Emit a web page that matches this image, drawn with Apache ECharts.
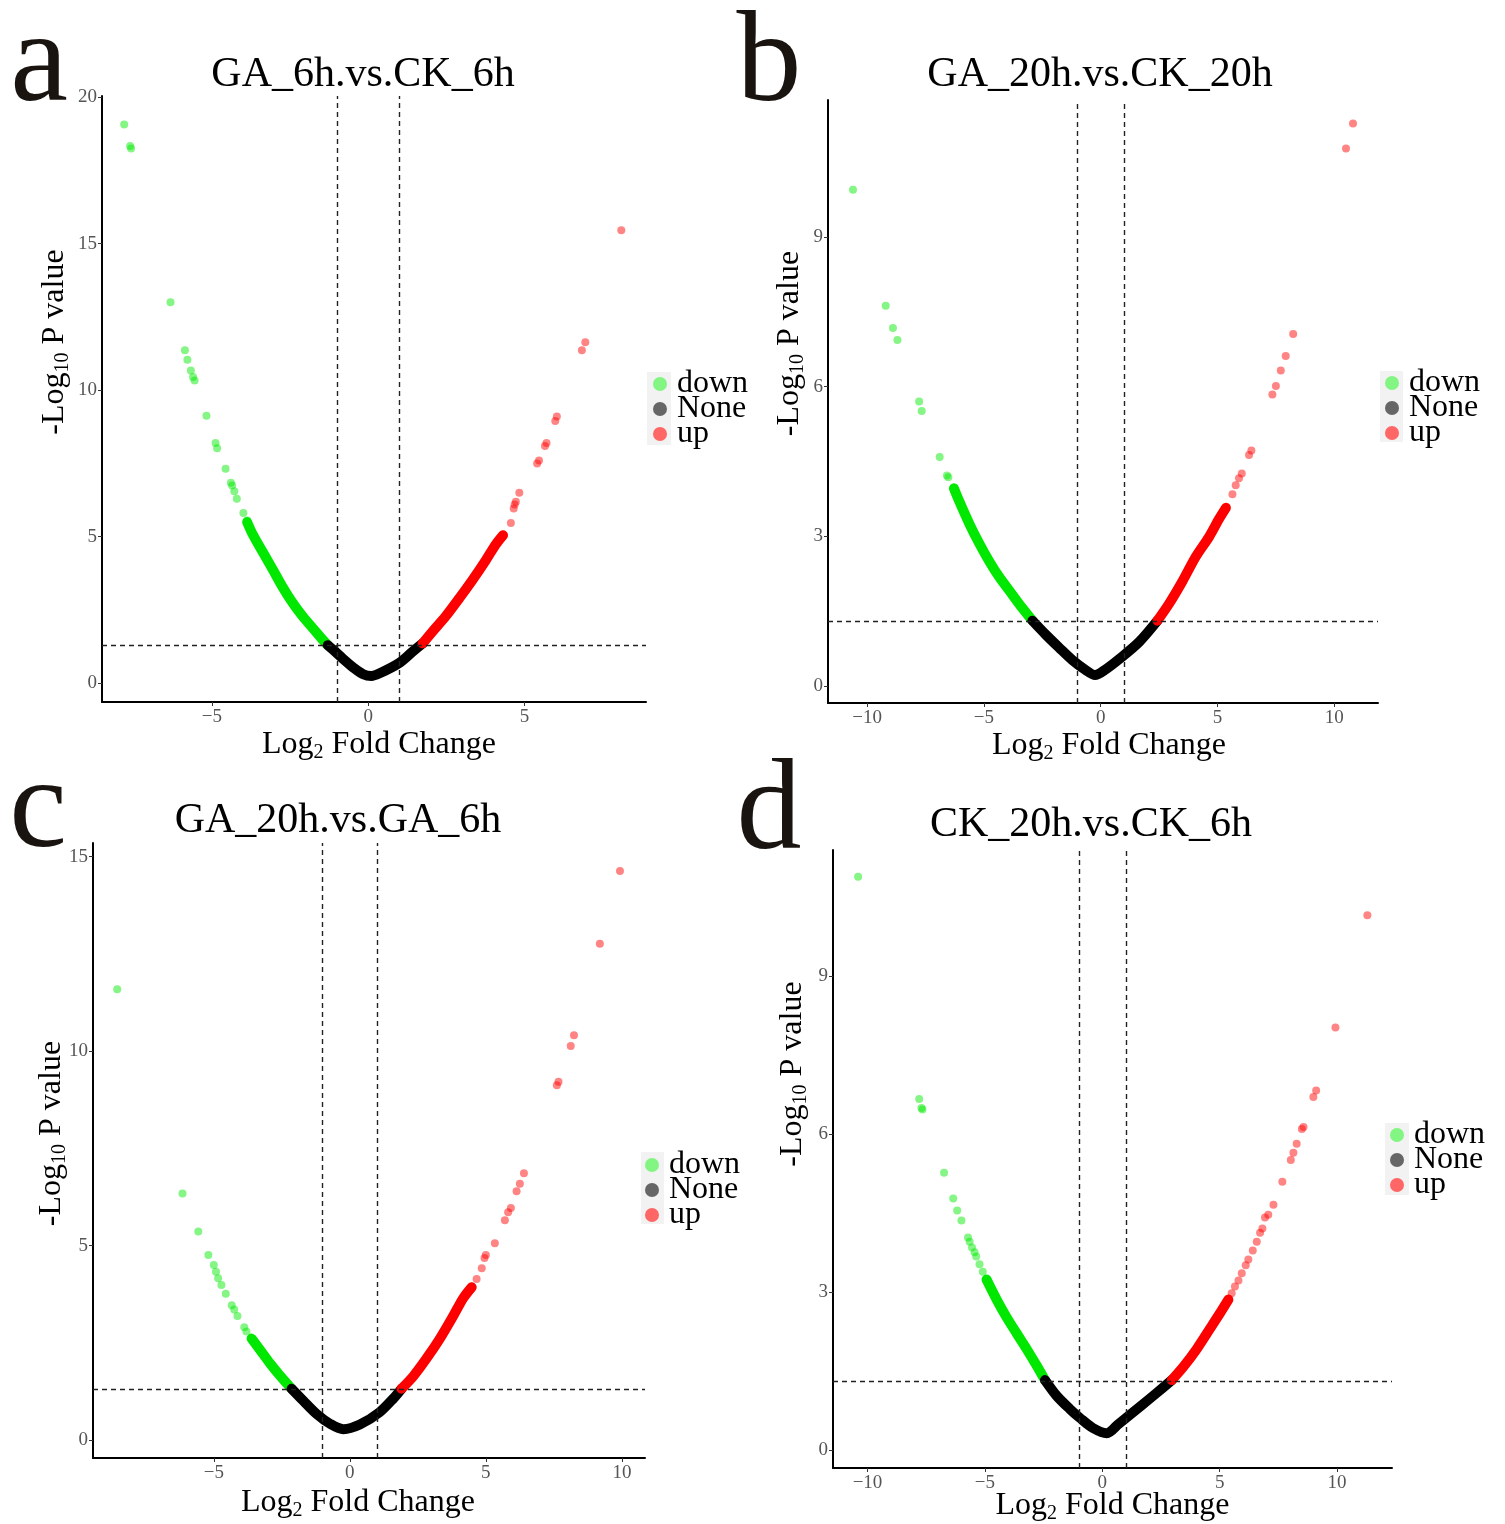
<!DOCTYPE html>
<html><head><meta charset="utf-8">
<script src="https://cdn.jsdelivr.net/npm/echarts@6/dist/echarts.min.js"></script>
<style>html,body{margin:0;padding:0;background:#fff}#c{width:1505px;height:1524px}</style>
</head><body><div id="c"></div>
<script>
// ---------------- data ----------------
const panelTitles = ['GA_6h.vs.CK_6h', 'GA_20h.vs.CK_20h', 'GA_20h.vs.GA_6h', 'CK_20h.vs.CK_6h'];
const panelLetters = ['a', 'b', 'c', 'd'];
const legendNames = ['down', 'None', 'up'];
const foldThresholds = [-1, 1];
const pThreshold = 1.301;

const aXTicks = [-5, 0, 5];
const aYTicks = [0, 5, 10, 15, 20];
const bXTicks = [-10, -5, 0, 5, 10];
const bYTicks = [0, 3, 6, 9];
const cXTicks = [-5, 0, 5, 10];
const cYTicks = [0, 5, 10, 15];
const dXTicks = [-10, -5, 0, 5, 10];
const dYTicks = [0, 3, 6, 9];

// panel a : GA_6h.vs.CK_6h
const aDownSparse = [[-7.80,19.07],[-7.61,18.33],[-7.58,18.25],[-6.32,13.0],[-5.86,11.36],[-5.78,11.04],[-5.67,10.67],[-5.6,10.45],[-5.55,10.33],[-5.17,9.13],[-4.88,8.2],[-4.83,8.02],[-4.56,7.32],[-4.39,6.84],[-4.35,6.75],[-4.28,6.55],[-4.2,6.3],[-3.99,5.81],[-3.87,5.55]];
const aDownCurve = [[-3.87,5.5],[-3.71,5.12],[-3.39,4.51],[-3.06,3.9],[-2.74,3.29],[-2.42,2.75],[-2.10,2.29],[-1.77,1.88],[-1.45,1.48],[-1.29,1.30]];
const aNoneCurve = [[-1.29,1.30],[-1.13,1.15],[-0.81,0.84],[-0.48,0.54],[-0.16,0.31],[0.1,0.25],[0.35,0.33],[0.99,0.69],[1.41,1.07],[1.74,1.36]];
const aUpCurve = [[1.74,1.36],[2.05,1.76],[2.48,2.29],[2.91,2.9],[3.33,3.52],[3.76,4.2],[4.08,4.74],[4.31,5.05]];
const aUpSparse = [[4.56,5.47],[4.65,5.96],[4.68,6.1],[4.72,6.19],[4.83,6.5],[5.4,7.5],[5.46,7.6],[5.65,8.1],[5.7,8.2],[5.98,8.95],[6.03,9.1],[6.83,11.36],[6.94,11.64],[8.09,15.46]];

// panel b : GA_20h.vs.CK_20h
const bDownSparse = [[-10.6,9.94],[-9.2,7.62],[-8.89,7.17],[-8.7,6.93],[-7.77,5.70],[-7.66,5.51],[-6.89,4.59],[-6.58,4.22],[-6.52,4.18],[-6.28,3.96]];
const bDownCurve = [[-6.28,3.96],[-6.06,3.71],[-5.63,3.26],[-5.2,2.86],[-4.77,2.5],[-4.35,2.19],[-3.78,1.83],[-3.35,1.56],[-2.92,1.31]];
const bNoneCurve = [[-2.92,1.31],[-2.35,1.03],[-1.78,0.77],[-1.21,0.52],[-0.64,0.32],[-0.24,0.22],[0.2,0.33],[0.79,0.54],[1.64,0.88],[2.43,1.31]];
const bUpCurve = [[2.43,1.31],[2.93,1.65],[3.5,2.1],[4.07,2.59],[4.64,2.99],[5.07,3.35],[5.36,3.57]];
const bUpSparse = [[5.64,3.84],[5.78,4.02],[5.92,4.16],[6.04,4.26],[6.35,4.63],[6.45,4.72],[7.35,5.84],[7.5,6.01],[7.71,6.32],[7.92,6.61],[8.24,7.05],[10.5,10.77],[10.8,11.27]];

// panel c : GA_20h.vs.GA_6h
const cDownSparse = [[-8.55,11.59],[-6.15,6.34],[-5.57,5.36],[-5.2,4.76],[-5.0,4.5],[-4.92,4.33],[-4.84,4.16],[-4.72,3.99],[-4.56,3.76],[-4.34,3.47],[-4.25,3.36],[-4.13,3.19],[-3.88,2.9],[-3.8,2.79]];
const cDownCurve = [[-3.61,2.61],[-3.31,2.33],[-2.94,1.98],[-2.57,1.66],[-2.14,1.32]];
const cNoneCurve = [[-2.14,1.32],[-1.71,1.01],[-1.22,0.67],[-0.73,0.42],[-0.24,0.28],[0.37,0.4],[1.1,0.72],[1.6,1.07],[1.9,1.32]];
const cUpCurve = [[1.9,1.32],[2.33,1.64],[2.82,2.1],[3.31,2.61],[3.8,3.19],[4.17,3.65],[4.48,3.93]];
const cUpSparse = [[4.66,4.14],[4.85,4.42],[4.95,4.68],[5.0,4.76],[5.33,5.06],[5.7,5.65],[5.82,5.86],[5.92,5.97],[6.13,6.4],[6.25,6.59],[6.4,6.86],[7.61,9.12],[7.67,9.21],[8.12,10.13],[8.24,10.41],[9.19,12.76],[9.93,14.63]];

// panel d : CK_20h.vs.CK_6h
const dDownSparse = [[-10.4,10.89],[-7.8,6.67],[-7.7,6.5],[-7.66,6.47],[-6.74,5.27],[-6.35,4.78],[-6.18,4.55],[-6.0,4.36],[-5.72,4.04],[-5.65,3.96],[-5.55,3.85],[-5.44,3.76],[-5.37,3.68],[-5.23,3.53],[-5.09,3.39]];
const dDownCurve = [[-4.93,3.24],[-4.5,2.86],[-4.07,2.52],[-3.65,2.22],[-3.22,1.92],[-2.8,1.61],[-2.44,1.33]];
const dNoneCurve = [[-2.44,1.33],[-1.94,1.03],[-1.38,0.78],[-0.95,0.61],[-0.4,0.42],[0.19,0.32],[0.7,0.5],[1.2,0.68],[1.7,0.86],[2.3,1.08],[2.96,1.33]];
const dUpCurve = [[2.96,1.33],[3.45,1.58],[4.02,1.92],[4.59,2.31],[5.01,2.6],[5.37,2.86]];
const dUpSparse = [[5.51,2.98],[5.65,3.11],[5.8,3.22],[5.94,3.36],[6.11,3.51],[6.22,3.62],[6.41,3.79],[6.58,3.96],[6.72,4.13],[6.82,4.21],[6.93,4.42],[7.07,4.47],[7.29,4.66],[7.67,5.1],[8.03,5.51],[8.14,5.65],[8.28,5.82],[8.5,6.1],[8.57,6.14],[8.99,6.71],[9.11,6.83],[9.93,8.03],[11.29,10.16]];

// ---------------- layout / style ----------------
const FONT = '"Liberation Serif", "Times New Roman", serif';
const panels = [
  { xT: aXTicks, yT: aYTicks, ds: aDownSparse, dc: aDownCurve, nc: aNoneCurve, uc: aUpCurve, us: aUpSparse,
    grid: {left: 102, top: 96, width: 544, height: 606}, xr: [-8.51, 8.88], yr: [-0.64, 20.04],
    title: [363, 75], letter: [39, 66], legend: [653, 368], bg: [647, 372, 24, 73],
    xGap: 23, xPad: [0, 0, 0, 10], yGap: 27, yPad: [0, 0, 0, 114] },
  { xT: bXTicks, yT: bYTicks, ds: bDownSparse, dc: bDownCurve, nc: bNoneCurve, uc: bUpCurve, us: bUpSparse,
    grid: {left: 828, top: 100, width: 550, height: 603}, xr: [-11.67, 11.87], yr: [-0.34, 11.74],
    title: [1100, 75], letter: [769, 66], legend: [1385, 367], bg: [1380, 371, 23, 71],
    xGap: 23, xPad: [0, 0, 0, 12], yGap: 18, yPad: [0, 0, 0, 116] },
  { xT: cXTicks, yT: cYTicks, ds: cDownSparse, dc: cDownCurve, nc: cNoneCurve, uc: cUpCurve, us: cUpSparse,
    grid: {left: 93, top: 843, width: 552, height: 615}, xr: [-9.44, 10.85], yr: [-0.46, 15.35],
    title: [338, 821], letter: [38, 812], legend: [645, 1149], bg: [641, 1152, 23, 72],
    xGap: 25, xPad: [0, 22, 0, 0], yGap: 21, yPad: [0, 0, 0, 34] },
  { xT: dXTicks, yT: dYTicks, ds: dDownSparse, dc: dDownCurve, nc: dNoneCurve, uc: dUpCurve, us: dUpSparse,
    grid: {left: 833, top: 850, width: 559, height: 618}, xr: [-11.47, 12.34], yr: [-0.34, 11.4],
    title: [1091, 825], letter: [769, 814], legend: [1390, 1119], bg: [1385, 1123, 24, 72],
    xGap: 18, xPad: [0, 0, 0, 0], yGap: 20, yPad: [0, 0, 0, 170] }
];

const colSparse = { down: 'rgba(0,235,0,0.6)', None: 'rgba(0,0,0,0.6)', up: 'rgba(255,0,0,0.6)' };
const colDense = { down: '#00e800', None: '#000000', up: '#ff0000' };
const legendColors = { down: '#66f566', None: '#666666', up: '#ff6666' };

const fmt = v => (v < 0 ? '\u2212' + Math.abs(v) : String(v));
const nameRich = {
  n: { fontFamily: FONT, fontSize: 32, lineHeight: 40, color: '#000' },
  s: { fontFamily: FONT, fontSize: 20, lineHeight: 20, padding: [16, 0, 0, 0], color: '#000' }
};

const grids = [], xAxes = [], yAxes = [], series = [], legends = [], graphics = [];

panels.forEach((p, i) => {
  grids.push(Object.assign({ outerBoundsMode: 'none', containLabel: false }, p.grid));
  const axisCommon = {
    axisLine: { show: true, onZero: false, lineStyle: { color: '#000', width: 2 } },
    splitLine: { show: false },
    axisLabel: { fontFamily: FONT, fontSize: 19, color: '#555', formatter: fmt },
    axisTick: { show: true, length: 4, lineStyle: { color: '#333', width: 1 } }
  };
  xAxes.push({
    type: 'value', gridIndex: i, min: p.xr[0], max: p.xr[1],
    axisLine: axisCommon.axisLine, splitLine: axisCommon.splitLine,
    axisLabel: Object.assign({ margin: 6, customValues: p.xT }, axisCommon.axisLabel),
    axisTick: Object.assign({ customValues: p.xT }, axisCommon.axisTick),
    name: '{n|Log}{s|2}{n| Fold Change}', nameLocation: 'middle', nameGap: p.xGap, nameMoveOverlap: false,
    nameTextStyle: { rich: nameRich, padding: p.xPad }
  });
  yAxes.push({
    type: 'value', gridIndex: i, min: p.yr[0], max: p.yr[1],
    axisLine: axisCommon.axisLine, splitLine: axisCommon.splitLine,
    axisLabel: Object.assign({ margin: 5, customValues: p.yT }, axisCommon.axisLabel),
    axisTick: Object.assign({ customValues: p.yT }, axisCommon.axisTick),
    name: '{n|-Log}{s|10}{n| P value}', nameLocation: 'middle', nameGap: p.yGap, nameRotate: 90, nameMoveOverlap: false,
    nameTextStyle: { rich: nameRich, padding: p.yPad }
  });

  const scatter = (name, data) => ({
    type: 'scatter', name, xAxisIndex: i, yAxisIndex: i, data, symbolSize: 8,
    itemStyle: { color: colSparse[name] }, z: 3, silent: true
  });
  const curve = (name, data, extra) => Object.assign({
    type: 'line', name, xAxisIndex: i, yAxisIndex: i, data, symbol: 'none', showSymbol: false,
    smooth: 0.3,
    lineStyle: { color: colDense[name], width: 10, cap: 'round', join: 'round' },
    itemStyle: { color: colDense[name] }, z: 2, silent: true
  }, extra || {});

  series.push(scatter('down', p.ds));
  series.push(curve('down', p.dc));
  series.push(curve('None', p.nc, {
    markLine: {
      silent: true, symbol: ['none', 'none'], label: { show: false }, animation: false,
      lineStyle: { color: '#222', width: 1.4, type: [5, 4] },
      data: foldThresholds.map(v => ({ xAxis: v })).concat([{ yAxis: pThreshold }])
    }
  }));
  series.push(curve('up', p.uc));
  series.push(scatter('up', p.us));

  legends.push({
    left: p.legend[0], top: p.legend[1], orient: 'vertical', padding: 0, itemGap: -7,
    itemWidth: 24, itemHeight: 14, icon: 'circle', selectedMode: false,
    textStyle: { fontFamily: FONT, fontSize: 32, color: '#000' },
    data: legendNames.map(n => ({ name: n, icon: 'circle', itemStyle: { color: legendColors[n] } }))
  });

  graphics.push({ type: 'rect', z: -1, shape: { x: p.bg[0], y: p.bg[1], width: p.bg[2], height: p.bg[3] }, style: { fill: '#f2f2f2' } });
  graphics.push({ type: 'text', x: p.title[0], y: p.title[1],
    style: { text: panelTitles[i], font: '42px ' + FONT, fill: '#000', align: 'center', verticalAlign: 'middle', textAlign: 'center', textVerticalAlign: 'middle' } });
  graphics.push({ type: 'text', x: p.letter[0], y: p.letter[1],
    style: { text: panelLetters[i], font: '130px ' + FONT, fill: '#1a1410', align: 'center', verticalAlign: 'middle', textAlign: 'center', textVerticalAlign: 'middle' } });
});

const chart = echarts.init(document.getElementById('c'), null, { renderer: 'canvas' });
chart.setOption({
  backgroundColor: '#ffffff',
  animation: false,
  grid: grids, xAxis: xAxes, yAxis: yAxes, series, legend: legends,
  graphic: { elements: graphics }
});
</script></body></html>
